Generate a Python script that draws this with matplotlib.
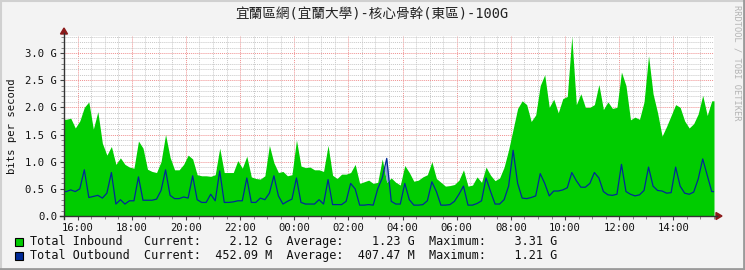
import numpy as np
import matplotlib
matplotlib.use('Agg')
import matplotlib.pyplot as plt
from matplotlib.patches import Rectangle, Polygon
from matplotlib.lines import Line2D
from matplotlib.ticker import FuncFormatter, MultipleLocator

# 24h window, one sample every 10 minutes starting 15:30 (values in Gbit/s)
start_hour = 15.5
end_hour = 39.5
step_hours = 10 / 60

inbound = [
    1.78, 1.80, 1.62, 1.75, 2.00, 2.10, 1.60, 1.92, 1.34, 1.12,
    1.28, 0.95, 1.07, 0.95, 0.90, 0.88, 1.38, 1.25, 0.86, 0.82,
    0.80, 1.00, 1.50, 1.08, 0.85, 0.85, 0.95, 1.12, 1.05, 0.76,
    0.74, 0.74, 0.73, 0.76, 1.25, 0.80, 0.80, 0.80, 1.02, 0.88,
    1.10, 0.72, 0.69, 0.68, 0.74, 1.30, 0.98, 0.80, 0.82, 0.74,
    0.76, 1.40, 0.92, 0.89, 0.90, 0.85, 0.85, 0.82, 1.30, 0.75,
    0.69, 0.77, 0.77, 0.80, 0.95, 0.60, 0.63, 0.66, 0.60, 0.62,
    1.05, 0.62, 0.70, 0.62, 0.57, 0.93, 0.80, 0.64, 0.66, 0.72,
    0.76, 1.00, 0.69, 0.62, 0.55, 0.56, 0.58, 0.66, 0.85, 0.55,
    0.57, 0.72, 0.62, 0.90, 0.75, 0.65, 0.70, 0.90, 1.22, 1.60,
    1.98, 2.12, 2.05, 1.74, 1.86, 2.40, 2.60, 2.00, 2.15, 1.90,
    2.16, 2.20, 3.31, 2.05, 2.25, 2.00, 2.00, 2.05, 2.42, 1.96,
    2.10, 1.98, 2.00, 2.65, 2.40, 1.77, 1.82, 1.78, 2.10, 2.95,
    2.25, 1.90, 1.47, 1.65, 1.85, 2.05, 2.00, 1.75, 1.62, 1.70,
    1.88, 2.22, 1.85, 2.12,
]

outbound = [
    0.45, 0.48, 0.45, 0.50, 0.85, 0.34, 0.36, 0.38, 0.33, 0.42,
    0.80, 0.22, 0.30, 0.22, 0.28, 0.28, 0.72, 0.29, 0.29, 0.29,
    0.31, 0.47, 0.85, 0.38, 0.32, 0.32, 0.35, 0.33, 0.74, 0.30,
    0.25, 0.25, 0.40, 0.28, 0.83, 0.25, 0.25, 0.26, 0.28, 0.28,
    0.70, 0.25, 0.25, 0.33, 0.30, 0.42, 0.74, 0.37, 0.22, 0.27,
    0.31, 0.70, 0.25, 0.22, 0.22, 0.22, 0.30, 0.22, 0.67, 0.21,
    0.21, 0.21, 0.27, 0.60, 0.50, 0.20, 0.20, 0.21, 0.20, 0.50,
    0.70, 1.06, 0.27, 0.22, 0.22, 0.60, 0.30, 0.20, 0.20, 0.21,
    0.28, 0.63, 0.45, 0.20, 0.20, 0.21, 0.27, 0.40, 0.55, 0.20,
    0.20, 0.23, 0.28, 0.70, 0.45, 0.22, 0.22, 0.30, 0.55, 1.21,
    0.60, 0.33, 0.32, 0.34, 0.37, 0.78, 0.60, 0.37, 0.46, 0.46,
    0.48, 0.52, 0.80, 0.65, 0.53, 0.53, 0.60, 0.80, 0.70, 0.45,
    0.39, 0.38, 0.40, 0.95, 0.45, 0.40, 0.37, 0.39, 0.47, 0.90,
    0.55, 0.47, 0.46, 0.42, 0.43, 0.90, 0.55, 0.42, 0.40, 0.44,
    0.68, 1.05, 0.75, 0.45,
]

title = '宜蘭區網(宜蘭大學)-核心骨幹(東區)-100G'
legend_rows = [
    ('Total Inbound', '    2.12 G', '    1.23 G', '    3.31 G', '#00CC00'),
    ('Total Outbound', '  452.09 M', '  407.47 M', '    1.21 G', '#002A97'),
]

W, H = 745, 270


def fx(x):
    return x / W


def fy(y):
    return 1 - y / H


# samples sit in the middle of their 10 min slot, held flat to the window edges
t = start_hour + step_hours * (np.arange(len(inbound)) + 0.5)
t = np.r_[start_hour, t, end_hour]
inb = np.r_[inbound[0], inbound, inbound[-1]]
outb = np.r_[outbound[0], outbound, outbound[-1]]

fig = plt.figure(figsize=(W / 100, H / 100), dpi=100)
fig.patch.set_facecolor('#f3f3f3')

ax = fig.add_axes([fx(64), fy(216), fx(650), 180 / H])
ax.set_facecolor('white')

# data
ax.fill_between(t, 0, inb, color='#00CC00', lw=0, zorder=3)
ax.fill_between(t, inb, outb, where=outb > inb, interpolate=True,
                color='#8ea1d4', lw=0, zorder=3)
ax.plot(t, outb, color='#002A97', lw=0.9, zorder=4)

ax.set_xlim(start_hour, end_hour)
ax.set_ylim(0, 3.313)

# grid like rrdtool
ax.xaxis.set_major_locator(MultipleLocator(2))
ax.xaxis.set_minor_locator(MultipleLocator(0.5))
ax.yaxis.set_major_locator(MultipleLocator(0.5))
ax.yaxis.set_minor_locator(MultipleLocator(0.1))
ax.grid(which='minor', color='#c8c8c8', linestyle=(0, (1, 1)), lw=0.7, zorder=1)
ax.grid(which='major', color='#f09090', linestyle=(0, (1, 1)), lw=0.7, zorder=2)

ax.xaxis.set_major_formatter(FuncFormatter(lambda v, p: '%02d:00' % (int(round(v)) % 24)))
ax.yaxis.set_major_formatter(FuncFormatter(lambda v, p: '0.0' if abs(v) < 1e-9 else '%.1f G' % v))

mono = 'DejaVu Sans Mono'
for lab in ax.get_xticklabels() + ax.get_yticklabels():
    lab.set_family(mono)
    lab.set_fontsize(7.6)
    lab.set_color('#111111')
ax.tick_params(which='major', length=3, width=0.8, color='#444444', pad=2)
ax.tick_params(which='minor', length=2, width=0.6, color='#777777')

for s in ax.spines.values():
    s.set_visible(False)

# axis lines with arrow heads
fig.add_artist(Line2D([fx(64), fx(64)], [fy(219), fy(33)], color='#333333', lw=1.0))
fig.add_artist(Line2D([fx(60), fx(717)], [fy(216), fy(216)], color='#333333', lw=1.0))
fig.add_artist(Polygon([(fx(60.5), fy(34)), (fx(67.5), fy(34)), (fx(64), fy(28))],
                       closed=True, color='#8b1a1a', transform=fig.transFigure))
fig.add_artist(Polygon([(fx(716), fy(212.5)), (fx(716), fy(219.5)), (fx(722), fy(216))],
                       closed=True, color='#8b1a1a', transform=fig.transFigure))

# texts
fig.text(fx(372), fy(14), title, ha='center', va='center', fontsize=9.8,
         family=['DejaVu Sans Mono', 'Noto Sans CJK TC'], color='#222222')
fig.text(fx(12), fy(126), 'bits per second', rotation=90, ha='center', va='center',
         family=mono, fontsize=7.6, color='#111111')
fig.text(fx(737), fy(5), 'RRDTOOL / TOBI OETIKER', rotation=270, ha='center', va='top',
         family=mono, fontsize=6.2, color='#b4b4b4')

row_y = [242, 256]
for (name, cur, avg, mx, col), yy in zip(legend_rows, row_y):
    fig.add_artist(Rectangle((fx(15), fy(yy + 4)), 8 / W, 8 / H, facecolor=col,
                             edgecolor='black', lw=0.8, transform=fig.transFigure))
    line = '%-16sCurrent:%s  Average:%s  Maximum:%s' % (name, cur, avg, mx)
    fig.text(fx(30.5), fy(yy), line, ha='left', va='center', family=mono,
             fontsize=8.5, color='#111111')

# 3d-ish border of the rrd image
fig.add_artist(Line2D([0, 1], [fy(0.5), fy(0.5)], color='#d0d0d0', lw=1.5))
fig.add_artist(Line2D([fx(0.5), fx(0.5)], [0, 1], color='#d0d0d0', lw=1.5))
fig.add_artist(Line2D([0, 1], [fy(269), fy(269)], color='#9a9a9a', lw=2))
fig.add_artist(Line2D([fx(744), fx(744)], [0, 1], color='#9a9a9a', lw=2))

fig.savefig('out.png', dpi=100, facecolor=fig.get_facecolor())
